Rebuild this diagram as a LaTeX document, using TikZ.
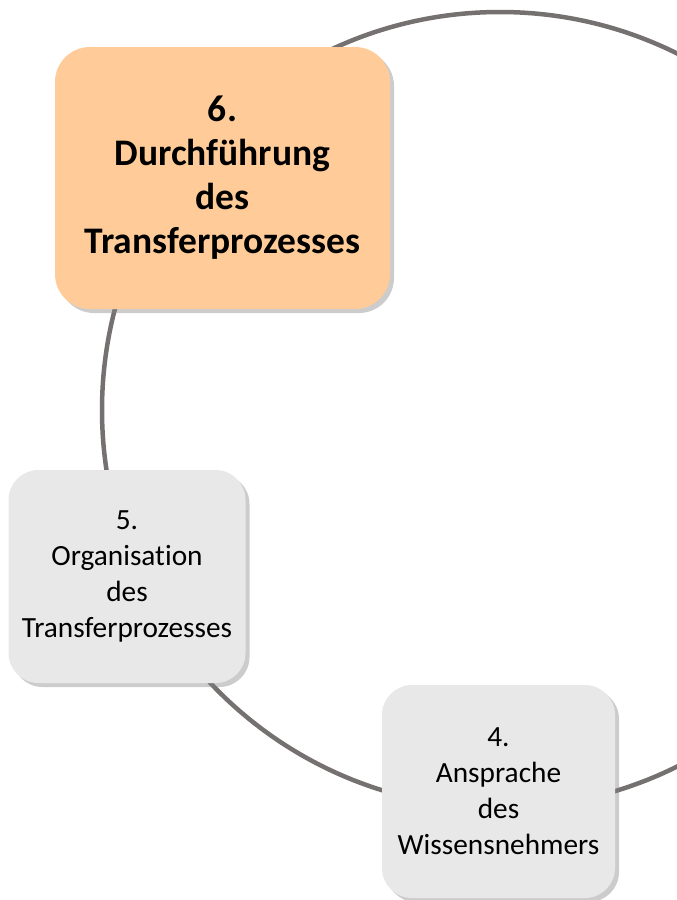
\documentclass[tikz,border=0pt]{standalone}
\usepackage{fontspec}
\setmainfont[Ligatures=NoCommon]{Carlito}
\usetikzlibrary{shadows}
\definecolor{kreisgrau}{RGB}{118,113,113}
\definecolor{aktivorange}{RGB}{255,204,153}
\definecolor{boxgrau}{RGB}{232,232,232}
\tikzset{
	schritt/.style={rectangle,rounded corners=30pt,align=center,inner sep=0pt,
		fill=boxgrau,drop shadow={shadow xshift=4pt,shadow yshift=-4pt,opacity=0.4}},
	kreis/.style={draw=kreisgrau,line width=4.5pt}
}
\begin{document}
\begin{tikzpicture}[x=1pt,y=-1pt,line join=round,line cap=round]
			\def \mx{500};
			\def \my{410};
			\def \r{398};
			\useasboundingbox (0,0) rectangle (677,900);
			\begin{scope}
				\clip (0,0) rectangle (677,900);
				\draw[kreis] (\mx,\my) circle[radius=\r];
			\end{scope}
			\node[schritt,fill=aktivorange,minimum width=335pt,minimum height=262pt,rounded corners=35pt,
				font=\fontsize{37.5}{44}\selectfont\bfseries] (s6) at (222.5,178) {6.\\Durchführung\\des\\Transferprozesses};
			\node[schritt,minimum width=237pt,minimum height=213pt,
				font=\fontsize{29.3}{36}\selectfont] (s5) at (127,576.5) {5.\\Organisation\\des\\Transferprozesses};
			\node[schritt,minimum width=233pt,minimum height=213pt,
				font=\fontsize{29.3}{36}\selectfont] (s4) at (498.5,791.5) {4.\\Ansprache\\des\\Wissensnehmers};
		\end{tikzpicture}
\end{document}
